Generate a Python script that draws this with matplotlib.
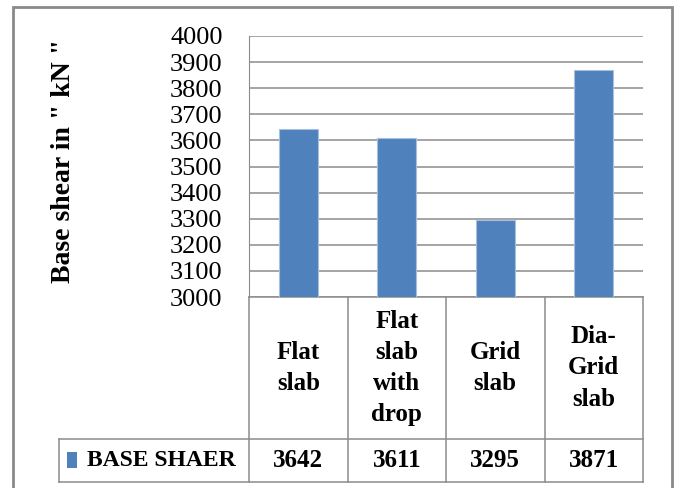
import matplotlib.pyplot as plt
from matplotlib.patches import Rectangle
from matplotlib.transforms import blended_transform_factory

# chart data
categories = ["Flat\nslab", "Flat\nslab\nwith\ndrop", "Grid\nslab", "Dia-\nGrid\nslab"]
values = [3642, 3611, 3295, 3871]
series_name = "BASE SHAER"
yticks = list(range(3000, 4001, 100))

W, H = 676, 488
BLUE = "#4F81BD"
GRID = "#8C8C8C"
SERIF = ["Liberation Serif", "DejaVu Serif"]

fig = plt.figure(figsize=(W / 100, H / 100), dpi=100)

def fx(x):
    return x / W

def fy(y):
    return 1 - y / H

# plot area in pixels: left 249, right 643, top 36, bottom 297
ax = fig.add_axes([fx(249), fy(297), fx(643) - fx(249), fy(36) - fy(297)])
xs = list(range(len(values)))
ax.bar(xs, values, width=0.4, color=BLUE, edgecolor="#A7C0DE", linewidth=0.8, zorder=3)
ax.set_xlim(-0.5, len(values) - 0.5)
ax.set_ylim(3000, 4000)
ax.set_yticks(yticks)
ax.set_yticklabels([str(t) for t in yticks], family=SERIF, fontsize=19)
ax.tick_params(axis="y", length=0, pad=19)
ax.set_xticks([])
ax.yaxis.grid(True, color=GRID, linewidth=1.1, zorder=0)
for s in ["top", "right", "bottom"]:
    ax.spines[s].set_visible(False)
ax.spines["left"].set_color(GRID)
ax.spines["left"].set_zorder(4)

# y label
fig.text(fx(64), fy(161), 'Base shear in " kN "', rotation=90, ha="center", va="center",
         family=SERIF, fontweight="bold", fontsize=20)

# data table under the axes
tr = blended_transform_factory(ax.transData, ax.transAxes)
ph = 297 - 36
y_mid = -(439 - 297) / ph
y_bot = -(482 - 297) / ph
x_leg = -(249 - 59) / (643 - 249)
line_kw = dict(color=GRID, linewidth=1.1, clip_on=False)

ax.plot([-0.5, len(values) - 0.5], [0, 0], transform=tr, **line_kw)
for b in range(len(values) + 1):
    ax.plot([b - 0.5, b - 0.5], [0, y_bot], transform=tr, **line_kw)
ax.plot([x_leg, 1], [y_mid, y_mid], transform=ax.transAxes, **line_kw)
ax.plot([x_leg, 1], [y_bot, y_bot], transform=ax.transAxes, **line_kw)
ax.plot([x_leg, x_leg], [y_mid, y_bot], transform=ax.transAxes, **line_kw)

for i, (c, v) in enumerate(zip(categories, values)):
    ax.text(i, y_mid / 2, c, transform=tr, ha="center", va="center", family=SERIF,
            fontweight="bold", fontsize=18, linespacing=1.45)
    ax.text(i, (y_mid + y_bot) / 2, str(v), transform=tr, ha="center", va="center",
            family=SERIF, fontweight="bold", fontsize=18)

# legend key and series name
fig.patches.append(Rectangle((fx(67), fy(468)), fx(10), 16 / H, facecolor=BLUE,
                             edgecolor="none", transform=fig.transFigure))
fig.text(fx(87), fy(460), series_name, ha="left", va="center", family=SERIF,
         fontweight="bold", fontsize=17)

# outer chart frame (runs off the bottom edge)
fig.patches.append(Rectangle((fx(13), fy(495)), fx(672) - fx(13), (495 - 7) / H,
                             fill=False, edgecolor="#8A8A8A", linewidth=2,
                             transform=fig.transFigure))

fig.savefig("out.png", dpi=100)
